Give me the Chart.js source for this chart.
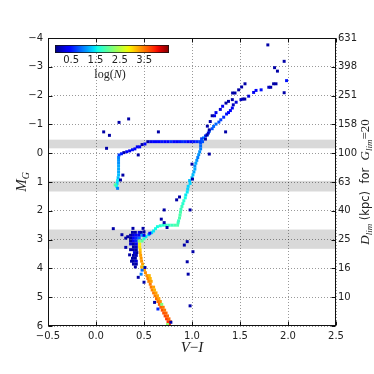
<!DOCTYPE html>
<html><head><meta charset="utf-8">
<script src="https://cdn.jsdelivr.net/npm/chart.js@4.4.0/dist/chart.umd.min.js"></script>
<style>
html,body{margin:0;padding:0;background:#fff;}
#wrap{position:relative;width:374px;height:374px;overflow:hidden;}
canvas{position:absolute;left:0;top:0;}
#cbar{pointer-events:none;}
</style></head><body>
<div id="wrap"><canvas id="main" width="374" height="374"></canvas><canvas id="cbar" width="374" height="100"></canvas></div>
<script>
// ---------- data (V-I, M_G, log N) ----------
const xTicks = [-0.5, 0, 0.5, 1, 1.5, 2, 2.5];
const yTicks = [-4, -3, -2, -1, 0, 1, 2, 3, 4, 5, 6];
const distTickMG = [-4, -3, -2, -1, 0, 1, 2, 3, 4, 5];
const distTickLabels = ['631', '398', '251', '158', '100', '63', '40', '25', '16', '10'];
const grayBands = [[-0.47, -0.17], [0.96, 1.33], [2.65, 3.32]];
const cbarTicks = [0.5, 1.5, 2.5, 3.5];
const cbarRange = [-0.16, 4.52];

const sparseCells = [
 [0.34,-1.19,0],[0.24,-1.07,0],[0.08,-0.74,0],[0.14,-0.62,0],[0.65,-0.74,0],[1.35,-0.74,0],
 [0.11,-0.17,0],[1.18,0.03,0],[1.79,-3.76,0],[1.96,-3.19,0],[1.86,-2.97,0],[1.89,-2.85,0],
 [1.985,-2.52,0.5],[1.96,-2.10,0],[0.44,0.06,0],[0.28,0.76,0],[0.255,0.93,0],[0.71,1.97,0],
 [0.98,1.97,0],[0.68,2.29,0],[0.84,1.62,0],[0.87,1.52,0],[1.00,0.38,0],[1.005,0.90,0],
 [0.71,2.41,0],[0.74,2.58,0],[0.18,2.62,0],[0.27,2.83,0],[0.31,2.95,0],[0.31,3.27,0],
 [0.35,3.53,0],[0.95,3.07,0],[0.92,3.19,0],[1.01,3.42,0],[0.95,3.77,0],[0.96,4.20,0],
 [0.98,5.30,0],[0.44,4.31,0],[0.50,4.48,0],[0.61,5.18,0],[0.78,5.87,0],[0.51,3.97,0],
 [0.56,2.78,0.5],[0.50,2.73,0],[0.49,2.61,0],[0.385,2.61,0]
];
const turnoffCells = [
 [0.38,2.75,0],[0.41,2.75,0],[0.45,2.75,0.3],[0.47,2.75,0],
 [0.33,2.90,0],[0.36,2.85,0],[0.39,2.85,0.2],[0.42,2.85,0.4],[0.45,2.85,0.3],[0.48,2.85,1.2],[0.50,2.85,0.3],
 [0.36,2.95,0],[0.39,2.95,0.4],[0.42,2.95,0.6],[0.45,2.95,0.9],
 [0.36,3.05,0],[0.39,3.05,0.3],[0.42,3.05,0.6],[0.45,3.05,2.2],
 [0.36,3.15,0.2],[0.39,3.15,0],[0.42,3.15,0.3],[0.39,3.25,0],[0.42,3.25,0.1],
 [0.36,3.35,0],[0.39,3.35,0],[0.42,3.35,0],[0.40,3.45,0.2],[0.425,3.45,0],
 [0.39,3.55,0],[0.42,3.55,0.1],[0.38,3.65,0],[0.41,3.65,0],
 [0.37,3.75,0],[0.39,3.75,0],[0.42,3.75,0.2],[0.39,3.85,0],[0.42,3.85,0],[0.41,3.95,0]
];
const subgiantCells = [
 [0.85,2.50,1.9],[0.82,2.50,1.9],[0.79,2.50,1.8],[0.76,2.50,1.8],[0.73,2.50,1.8],[0.70,2.50,1.7],
 [0.67,2.52,1.7],[0.64,2.55,1.6],[0.62,2.62,1.6],[0.60,2.70,1.5],[0.58,2.76,1.4],[0.55,2.83,1.3],
 [0.52,2.90,1.5],[0.50,2.97,1.7],[0.48,3.05,2.0]
];
const msCells = [
 [0.455,3.15,2.9],[0.455,3.25,2.95],[0.46,3.35,3.1],[0.46,3.45,3.25],[0.465,3.55,3.3],[0.47,3.65,3.35],
 [0.475,3.75,3.35],[0.485,3.85,3.3],[0.495,3.95,2.3],[0.505,4.05,3.3],[0.515,4.15,3.4],[0.53,4.25,3.4],
 [0.54,4.35,3.45],[0.55,4.45,3.45],[0.565,4.55,3.5],[0.575,4.65,3.5],[0.585,4.75,3.45],[0.60,4.85,3.5],
 [0.615,4.95,3.5],[0.63,5.05,3.55],[0.645,5.15,3.55],[0.66,5.25,3.6],[0.675,5.35,3.65],[0.69,5.45,3.7],
 [0.705,5.55,3.7],[0.72,5.65,3.75],[0.735,5.75,3.8],[0.75,5.85,3.85],[0.765,5.95,3.85],
 [0.565,4.35,3.2],[0.60,4.65,3.3],[0.64,4.95,3.3],[0.685,5.25,2.2],[0.73,5.55,3.6],[0.775,5.85,3.7],
 [0.555,4.25,3.2],[0.575,4.45,3.3],[0.61,4.75,3.2],[0.625,4.85,3.3],[0.655,5.05,3.3],[0.67,5.15,3.4],
 [0.70,5.35,3.5],[0.715,5.45,3.5],[0.745,5.65,3.6],[0.76,5.75,3.6],
 [0.745,5.95,2.3],[0.48,4.06,0.9],[0.475,3.95,3.2],[0.47,4.20,1.0],[0.645,5.41,0.6]
];
const rgbLowerCells = [
 [1.09,-0.25,0.9],[1.09,-0.15,1.0],[1.08,-0.05,1.1],[1.07,0.05,1.1],[1.06,0.15,1.0],[1.05,0.25,1.1],
 [1.04,0.35,1.2],[1.03,0.45,1.1],[1.03,0.55,1.2],[1.02,0.65,1.2],[1.01,0.75,1.3],[1.00,0.85,1.3],
 [0.975,0.95,1.3],[0.98,1.05,1.4],[0.96,1.15,1.4],[0.955,1.25,1.4],[0.95,1.35,1.5],[0.935,1.45,1.5],
 [0.93,1.55,1.6],[0.915,1.65,1.7],[0.905,1.75,1.7],[0.895,1.85,1.8],[0.885,1.95,1.8],[0.88,2.05,1.9],
 [0.875,2.15,1.9],[0.87,2.25,1.9],[0.86,2.35,1.8],[0.855,2.42,1.8]
];
const hbCells = [
 [0.54,-0.40,0],[0.57,-0.40,0.3],[0.60,-0.40,0.4],[0.63,-0.40,0.35],[0.66,-0.40,0.4],[0.69,-0.40,0.5],
 [0.72,-0.40,0.4],[0.75,-0.40,0.4],[0.78,-0.40,0.6],[0.81,-0.40,0.45],[0.84,-0.40,0.4],[0.87,-0.40,0.5],
 [0.90,-0.40,0.6],[0.93,-0.40,0.55],[0.96,-0.40,0.4],[0.99,-0.40,0.45],[1.02,-0.40,0.5],[1.05,-0.40,0.6],
 [1.08,-0.40,0.7],[1.11,-0.40,0.8],
 [0.51,-0.32,0.4],[0.48,-0.30,0],[0.455,-0.22,0.4],[0.43,-0.22,0.3],[0.405,-0.15,0.4],[0.38,-0.12,0.5],
 [0.35,-0.08,0.3],[0.32,-0.05,0.4],[0.29,-0.02,0],[0.265,0.02,0.5],[0.24,0.06,0.7],
 [0.235,0.15,1.0],[0.235,0.25,1.1],[0.235,0.35,1.1],[0.235,0.45,1.2],[0.235,0.55,1.2],[0.235,0.65,1.2],
 [0.235,0.75,1.3],[0.23,0.85,1.3],[0.225,0.95,1.5],[0.22,1.05,1.4],[0.20,1.10,2.0],[0.215,1.15,1.6],
 [0.225,1.22,1.0]
];
const agbCells = [
 [1.552,-2.41,0],[1.517,-2.30,0],[1.486,-2.20,0],[1.448,-2.09,0],[1.423,-2.09,0],[1.42,-1.86,0],
 [1.38,-1.80,0],[1.354,-1.74,0],[1.319,-1.63,0.3],[1.295,-1.52,0.2],[1.25,-1.41,0.3],[1.235,-1.30,0.3],
 [1.21,-1.30,0],[1.19,-1.10,0],[1.16,-0.94,0],[1.18,-0.81,0],[1.17,-0.70,0.2],[1.156,-0.63,0],[1.14,-0.49,0]
];
const rgbUpperCells = [
 [1.875,-2.41,0],[1.85,-2.41,0],[1.82,-2.29,0],[1.80,-2.29,0.1],[1.72,-2.20,0.5],[1.667,-2.18,0.4],
 [1.642,-2.11,0.3],[1.59,-1.98,0.2],[1.55,-1.88,0],[1.53,-1.88,0],[1.51,-1.86,0.1],[1.46,-1.77,0.2],
 [1.43,-1.68,0.1],[1.42,-1.57,0.3],[1.40,-1.48,0.4],[1.38,-1.41,0.4],[1.36,-1.36,0.5],[1.33,-1.25,0.6],
 [1.30,-1.16,0.7],[1.28,-1.08,0.8],[1.25,-1.01,0.9],[1.225,-0.93,0.9],[1.21,-0.85,0.8],[1.18,-0.76,0.9],
 [1.16,-0.64,1.0],[1.14,-0.60,0.6],[1.12,-0.53,1.0],[1.10,-0.50,0.7],[1.10,-0.43,0.9],[1.09,-0.35,0.8]
];

// ---------- colour map (jet) ----------
const jetR = [[0,0],[0.35,0],[0.66,1],[0.89,1],[1,0.5]];
const jetG = [[0,0],[0.125,0],[0.375,1],[0.64,1],[0.91,0],[1,0]];
const jetB = [[0,0.5],[0.11,1],[0.34,1],[0.65,0],[1,0]];
function seg(s, t){ for(let i=1;i<s.length;i++){ if(t<=s[i][0]){ const a=s[i-1], b=s[i]; return a[1]+(b[1]-a[1])*(t-a[0])/(b[0]-a[0]); } } return s[s.length-1][1]; }
function jet(t){ t=Math.max(0,Math.min(1,t)); return 'rgb('+Math.round(255*seg(jetR,t))+','+Math.round(255*seg(jetG,t))+','+Math.round(255*seg(jetB,t))+')'; }
function colorFor(v){ return jet((v-cbarRange[0])/(cbarRange[1]-cbarRange[0])); }

Chart.defaults.font.family = 'DejaVu Sans';
Chart.defaults.font.size = 10;
Chart.defaults.color = '#222';

const minus = v => (v<0 ? '\u2212' : '') ;
const toPts = arr => arr.map(c => ({x:c[0], y:c[1], v:c[2]}));
const groups = [sparseCells, turnoffCells, subgiantCells, msCells, rgbLowerCells, hbCells, agbCells, rgbUpperCells];

function drawRich(ctx, parts, cx, cy, rot){
  ctx.save();
  ctx.translate(cx, cy);
  if (rot) ctx.rotate(rot);
  let total = 0;
  parts.forEach(p => { ctx.font = p.f; p.w = ctx.measureText(p.t).width; total += p.w; });
  let x = -total/2;
  ctx.textBaseline = 'alphabetic';
  ctx.fillStyle = '#222';
  parts.forEach(p => { ctx.font = p.f; ctx.fillText(p.t, x, (p.dy||0)); x += p.w; });
  ctx.restore();
}

const framePlugin = {
  id: 'frame',
  beforeDraw(chart){
    const {ctx, chartArea:a, scales:{y}} = chart;
    ctx.save();
    ctx.fillStyle = '#d9d9d9';
    grayBands.forEach(b => {
      const y1 = y.getPixelForValue(b[0]), y2 = y.getPixelForValue(b[1]);
      ctx.fillRect(a.left, Math.min(y1,y2), a.right-a.left, Math.abs(y2-y1));
    });
    ctx.restore();
  },
  afterDraw(chart){
    const {ctx, chartArea:a, scales:{x, y}} = chart;
    ctx.save();
    ctx.strokeStyle = '#111';
    ctx.lineWidth = 1;
    const L = Math.round(a.left)+0.5, R = Math.round(a.right)-0.5, T = Math.round(a.top)+0.5, B = Math.round(a.bottom)-0.5;
    ctx.strokeRect(L, T, R-L, B-T);
    ctx.beginPath();
    xTicks.forEach(v => { const p = Math.round(x.getPixelForValue(v))+0.5; ctx.moveTo(p,B); ctx.lineTo(p,B-4); ctx.moveTo(p,T); ctx.lineTo(p,T+4); });
    yTicks.forEach(v => { const p = Math.round(y.getPixelForValue(v))+0.5; ctx.moveTo(L,p); ctx.lineTo(L+4,p); ctx.moveTo(R,p); ctx.lineTo(R-4,p); });
    ctx.stroke();
    ctx.restore();
    const serifI = s => 'italic ' + s + 'px "Liberation Serif"';
    const serif = s => s + 'px "Liberation Serif"';
    const sans = s => s + 'px "DejaVu Sans"';
    drawRich(ctx, [{t:'M', f:serifI(15)}, {t:'G', f:serifI(10), dy:3}], 26, (a.top+a.bottom)/2, -Math.PI/2);
    drawRich(ctx, [{t:'V', f:serifI(15)}, {t:'\u2212', f:serif(15)}, {t:'I', f:serifI(15)}], (a.left+a.right)/2, 352, 0);
    drawRich(ctx, [
      {t:'D', f:serifI(13)}, {t:'lim', f:serifI(9), dy:3},
      {t:' (kpc)  for  ', f:sans(11.5)},
      {t:'G', f:serifI(13)}, {t:'lim', f:serifI(9), dy:3}, {t:'=20', f:serif(13)}
    ], 369, (a.top+a.bottom)/2, -Math.PI/2);
  }
};

new Chart(document.getElementById('main'), {
  type: 'scatter',
  data: { datasets: groups.map(g => ({
    data: toPts(g),
    pointStyle: 'rect',
    pointRadius: 2.1, pointHoverRadius: 2.1, borderWidth: 0,
    backgroundColor: ctx => ctx.raw ? colorFor(ctx.raw.v) : '#000'
  })) },
  options: {
    responsive: false, animation: false, events: [], devicePixelRatio: 1,
    layout: { padding: { top: 38, left: 0, right: 0, bottom: 0 } },
    plugins: { legend: { display: false }, tooltip: { enabled: false } },
    scales: {
      x: {
        type: 'linear', position: 'bottom', min: -0.5, max: 2.5,
        afterBuildTicks: s => { s.ticks = xTicks.map(v => ({value: v})); },
        afterFit: s => { s.height = 48; },
        ticks: { autoSkip: false, maxRotation: 0, minRotation: 0, padding: 4, color: '#222',
                 callback: v => minus(v) + Math.abs(v).toFixed(1) },
        grid: { color: 'rgba(0,0,0,0.5)', lineWidth: 0.8, drawTicks: false },
        border: { display: false, dash: [1, 2] }
      },
      y: {
        type: 'linear', position: 'left', reverse: true, min: -4, max: 6,
        afterBuildTicks: s => { s.ticks = yTicks.map(v => ({value: v})); },
        afterFit: s => { s.width = 48; },
        ticks: { autoSkip: false, padding: 5, color: '#222', callback: v => minus(v) + Math.abs(v) },
        grid: { color: 'rgba(0,0,0,0.5)', lineWidth: 0.8, drawTicks: false },
        border: { display: false, dash: [1, 2] }
      },
      y2: {
        type: 'linear', position: 'right', reverse: true, min: -4, max: 6,
        afterBuildTicks: s => { s.ticks = distTickMG.map(v => ({value: v})); },
        afterFit: s => { s.width = 38; },
        ticks: { autoSkip: false, padding: 2, color: '#222', callback: (v, i) => distTickLabels[i] },
        grid: { display: false, drawTicks: false },
        border: { display: false }
      }
    }
  },
  plugins: [framePlugin]
});

// ---------- colour bar ----------
const cbarLabelPlugin = {
  id: 'cbarLabel',
  afterDraw(chart){
    const a = chart.chartArea;
    drawRich(chart.ctx, [
      {t:'log(', f:'12px "Liberation Serif"'}, {t:'N', f:'italic 12px "Liberation Serif"'}, {t:')', f:'12px "Liberation Serif"'}
    ], (a.left+a.right)/2 - 2, 78, 0);
  }
};
new Chart(document.getElementById('cbar'), {
  type: 'bar',
  data: { labels: ['c'], datasets: [{
    data: [cbarRange],
    backgroundColor: ctx => {
      const a = ctx.chart.chartArea; if (!a) return '#00f';
      const g = ctx.chart.ctx.createLinearGradient(a.left, 0, a.right, 0);
      for (let i = 0; i <= 40; i++) g.addColorStop(i/40, jet(i/40));
      return g;
    },
    borderColor: '#111', borderWidth: 1, borderSkipped: false,
    barPercentage: 1, categoryPercentage: 1
  }] },
  options: {
    indexAxis: 'y', responsive: false, animation: false, events: [], devicePixelRatio: 1,
    layout: { padding: { left: 55, right: 374 - 169, top: 45, bottom: 100 - 53 - 12 } },
    plugins: { legend: { display: false }, tooltip: { enabled: false } },
    scales: {
      x: {
        type: 'linear', min: cbarRange[0], max: cbarRange[1],
        afterBuildTicks: s => { s.ticks = cbarTicks.map(v => ({value: v})); },
        afterFit: s => { s.height = 12; },
        ticks: { autoSkip: false, maxRotation: 0, padding: 1, color: '#222', callback: v => v.toFixed(1) },
        grid: { display: false, drawTicks: false }, border: { display: false }
      },
      y: { display: false }
    }
  },
  plugins: [cbarLabelPlugin]
});
</script>
</body></html>
